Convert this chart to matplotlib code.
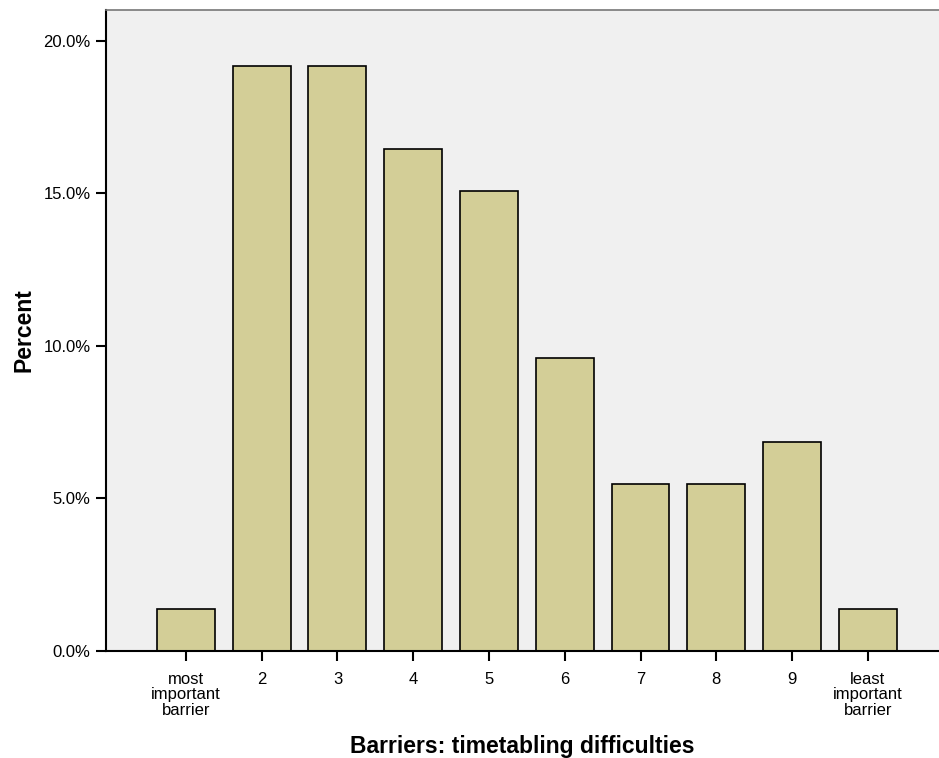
import numpy as np
import matplotlib.pyplot as plt

plt.rcParams['font.family'] = ['Liberation Sans', 'DejaVu Sans']

categories = ['most\nimportant\nbarrier', '2', '3', '4', '5', '6', '7', '8', '9',
              'least\nimportant\nbarrier']
counts = [1, 14, 14, 12, 11, 7, 4, 4, 5, 1]
percent = np.array(counts) / sum(counts) * 100

fig = plt.figure(figsize=(9.39, 7.58), dpi=100)
ax = fig.add_axes([0.1129, 0.1412, 0.8871, 0.8456])
ax.set_facecolor('#f0f0f0')

x = np.arange(len(categories))
ax.bar(x, percent, width=0.765, color='#d3ce97', edgecolor='black', linewidth=1.2, zorder=2)

ax.set_xlim(-1.055, 9.94)
ax.set_ylim(0, 21.0)
ax.set_yticks([0, 5, 10, 15, 20])
ax.set_yticklabels(['0.0%', '5.0%', '10.0%', '15.0%', '20.0%'])
ax.set_xticks(x)
ax.set_xticklabels(categories, linespacing=1.05)
ax.tick_params(axis='both', direction='out', length=7, width=1.5, labelsize=12, colors='black')
ax.tick_params(axis='x', pad=8)
ax.tick_params(axis='y', pad=4)

ax.spines['right'].set_visible(False)
ax.spines['top'].set_color('#777777')
ax.spines['top'].set_linewidth(1.2)
ax.spines['left'].set_linewidth(1.5)
ax.spines['bottom'].set_linewidth(1.5)

ax.set_xlabel('Barriers: timetabling difficulties', fontsize=16.5, fontweight='bold', labelpad=12)
ax.set_ylabel('Percent', fontsize=16.5, fontweight='bold', labelpad=6)

fig.savefig('out.png', dpi=100)
